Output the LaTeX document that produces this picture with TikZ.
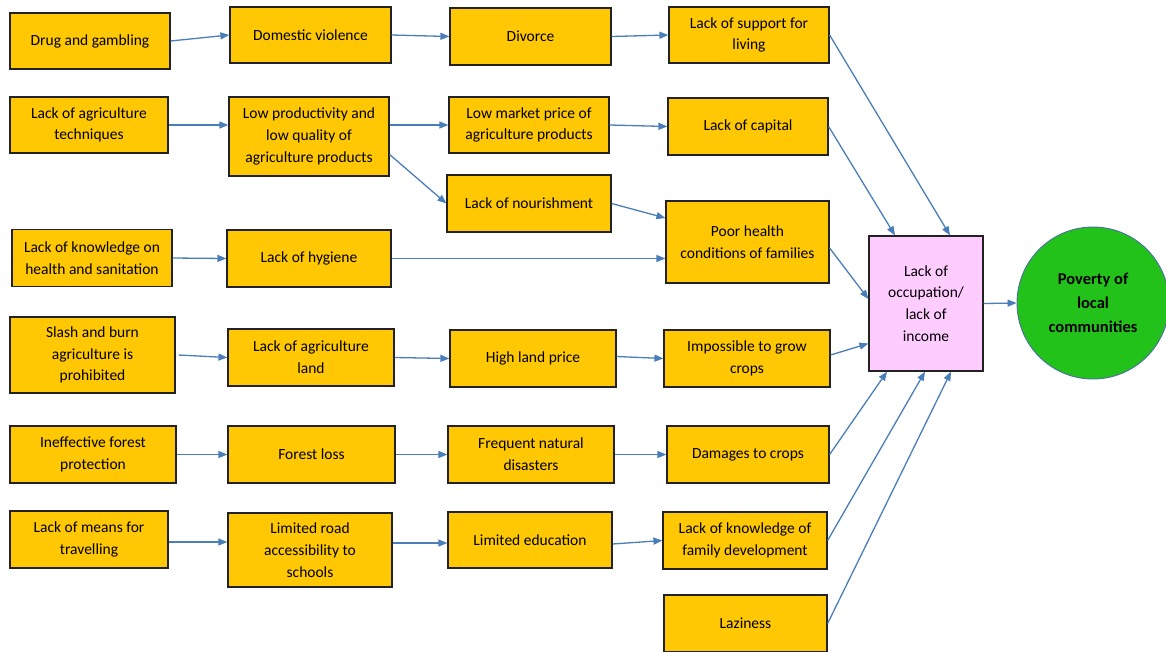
\documentclass[tikz,border=0pt]{standalone}
\usepackage{fontspec}
\setmainfont{Carlito}
\usetikzlibrary{arrows.meta}
\definecolor{boxyellow}{HTML}{FFC803}
\definecolor{boxborder}{HTML}{222222}
\definecolor{arrowblue}{HTML}{4A7EBB}
\definecolor{pinkfill}{HTML}{FFCCFF}
\definecolor{greenfill}{HTML}{22C21A}
\definecolor{circleborder}{HTML}{4A6FA5}
\tikzset{
  box/.style={draw=boxborder, line width=1.2pt, fill=boxyellow, inner sep=0pt, align=center,
    font=\fontsize{15.5}{21.7}\selectfont},
  pinkbox/.style={draw=boxborder, line width=1.2pt, fill=pinkfill, inner sep=0pt, align=center,
    font=\fontsize{15.5}{21.7}\selectfont},
  goal/.style={circle, draw=circleborder, line width=0.9pt, fill=greenfill, inner sep=0pt,
    align=center, font=\fontsize{16.5}{24}\selectfont\bfseries},
  conn/.style={draw=arrowblue, line width=1.3pt, -{Triangle[length=9pt,width=7pt]}},
}
\begin{document}
\begin{tikzpicture}[x=1pt,y=-1pt]
\useasboundingbox (0,0) rectangle (1166,651);
% column 1
\node[box, minimum width=160, minimum height=56] (a1) at (90,41) {Drug and gambling};
\node[box, minimum width=158, minimum height=56] (b1) at (89,125) {Lack of agriculture\\techniques};
\node[box, minimum width=160, minimum height=57] (c1) at (92,258) {Lack of knowledge on\\health and sanitation};
\node[box, minimum width=165, minimum height=76] (d1) at (92.5,355) {Slash and burn\\agriculture is\\prohibited};
\node[box, minimum width=166, minimum height=57] (e1) at (93,454.5) {Ineffective forest\\protection};
\node[box, minimum width=158, minimum height=57] (f1) at (89,539.5) {Lack of means for\\travelling};
% column 2
\node[box, minimum width=161, minimum height=56] (a2) at (310.5,35) {Domestic violence};
\node[box, minimum width=160, minimum height=79] (b2) at (309,136.5) {Low productivity and\\low quality of\\agriculture products};
\node[box, minimum width=164, minimum height=57] (c2) at (309,258.5) {Lack of hygiene};
\node[box, minimum width=166, minimum height=57] (d2) at (311,357.5) {Lack of agriculture\\land};
\node[box, minimum width=167, minimum height=57] (e2) at (311.5,454.5) {Forest loss};
\node[box, minimum width=164, minimum height=74] (f2) at (310,550) {Limited road\\accessibility to\\schools};
% column 3
\node[box, minimum width=161, minimum height=57] (a3) at (530.5,36.5) {Divorce};
\node[box, minimum width=160, minimum height=56] (b3) at (529,125) {Low market price of\\agriculture products};
\node[box, minimum width=164, minimum height=57] (c3) at (529,203.5) {Lack of nourishment};
\node[box, minimum width=166, minimum height=57] (d3) at (533,358.5) {High land price};
\node[box, minimum width=166, minimum height=57] (e3) at (531,454.5) {Frequent natural\\disasters};
\node[box, minimum width=164, minimum height=56] (f3) at (530,540) {Limited education};
% column 4
\node[box, minimum width=160, minimum height=56] (a4) at (749,35) {Lack of support for\\living};
\node[box, minimum width=160, minimum height=57] (b4) at (748,126.5) {Lack of capital};
\node[box, minimum width=163, minimum height=82] (c4) at (747.5,242) {Poor health\\conditions of families};
\node[box, minimum width=166, minimum height=57] (d4) at (747,358.5) {Impossible to grow\\crops};
\node[box, minimum width=162, minimum height=57] (e4) at (748,454.5) {Damages to crops};
\node[box, minimum width=164, minimum height=57] (f4) at (745,540.5) {Lack of knowledge of\\family development};
\node[box, minimum width=163, minimum height=57] (g4) at (745.5,623.5) {Laziness};
% outcome
\node[pinkbox, minimum width=114, minimum height=135] (p) at (926,303.5) {Lack of\\occupation/\\lack of\\income};
\node[goal, minimum size=152] (g) at (1093,303) {Poverty of\\local\\communities};
% connectors row 1
\draw[conn] (a1.east) -- (a2.west);
\draw[conn] (a2.east) -- (a3.west);
\draw[conn] (a3.east) -- (a4.west);
% row 2
\draw[conn] (b1.east) -- (b1.east -| b2.west);
\draw[conn] (b3.west -| b2.east) -- (b3.west);
\draw[conn] ([yshift=-18pt]b2.east) -- (c3.west);
\draw[conn] (b3.east) -- (b4.west);
\draw[conn] (c3.east) -- ([yshift=24pt]c4.west);
% row 3
\draw[conn] (c1.east) -- (c2.west);
\draw[conn] (c2.east) -- (c2.east -| c4.west);
% row 4
\draw[conn] ([xshift=3pt]d1.east) -- (d2.west);
\draw[conn] (d2.east) -- (d3.west);
\draw[conn] ([yshift=2pt]d3.east) -- (d4.west);
% row 5
\draw[conn] (e1.east) -- (e2.west);
\draw[conn] (e2.east) -- (e3.west);
\draw[conn] (e3.east) -- (e4.west);
% row 6
\draw[conn] ([yshift=-2.5pt]f1.east) -- ([yshift=-2.5pt]f1.east -| f2.west);
\draw[conn] ([yshift=-3pt]f2.east |- f3.west) -- ([yshift=-3pt]f3.west);
\draw[conn] ([yshift=-4pt]f3.east) -- (f4.west);
% into the pink box
\draw[conn] (a4.east) -- ([xshift=24pt]p.north);
\draw[conn] (b4.east) -- ([xshift=-31pt]p.north);
\draw[conn] ([yshift=-6pt]c4.east) -- ([yshift=4.5pt]p.west);
\draw[conn] ([yshift=3.5pt]d4.east) -- ([yshift=-40pt]p.west);
\draw[conn] (e4.east) -- ([xshift=-39pt]p.south);
\draw[conn] (f4.east) -- ([xshift=-1pt]p.south);
\draw[conn] (g4.east) -- ([xshift=25pt]p.south);
\draw[conn] (p.east) -- (g.west);
\end{tikzpicture}
\end{document}
